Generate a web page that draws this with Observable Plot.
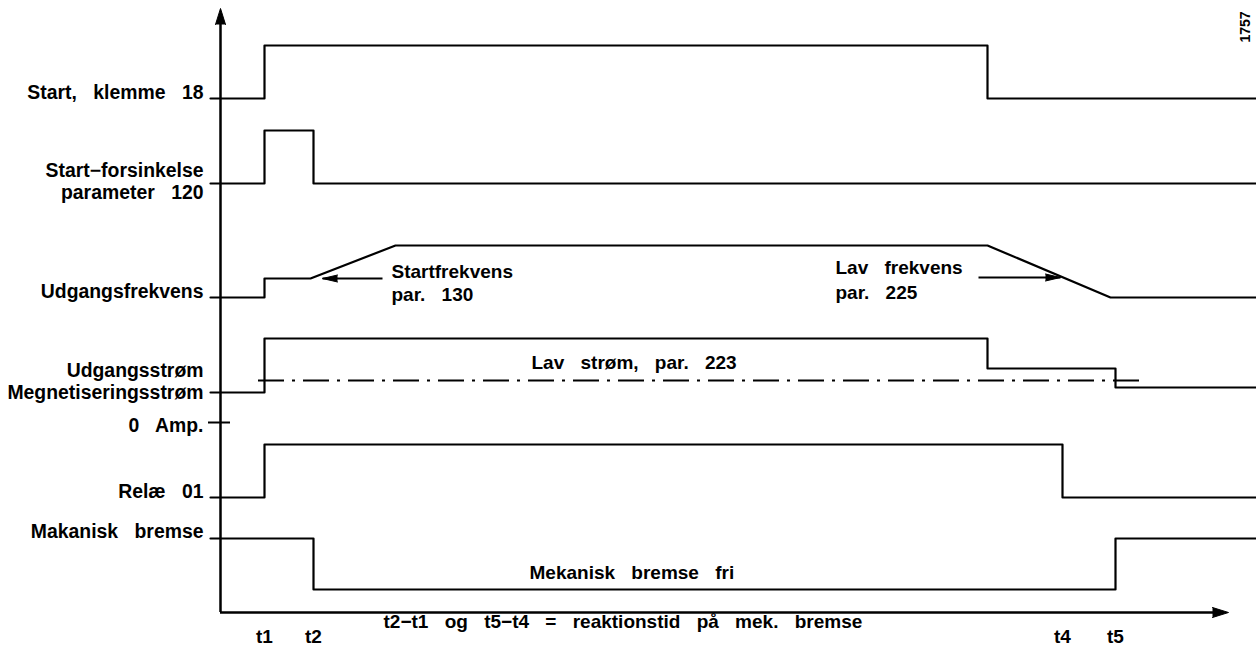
<!DOCTYPE html>
<html><head><meta charset="utf-8">
<script src="https://cdn.jsdelivr.net/npm/d3@7"></script>
<script src="https://cdn.jsdelivr.net/npm/@observablehq/plot@0.6"></script>
<style>
body{margin:0;background:#fff}
svg{display:block}
</style>
</head><body><div id="chart"></div>
<script>
// Time axis (x) in arbitrary time units from axis origin; level (y) in units above the time axis.
const eventNames = ["t1", "t2", "t4", "t5"];
const eventTimes = [44, 93, 842, 895];

const startT = [-10, 44, 44, 767, 767, 1036];
const startV = [514, 514, 567, 567, 514, 514];

const delayT = [-10, 44, 44, 93, 93, 1036];
const delayV = [429, 429, 482, 482, 429, 429];

const freqT = [-10, 44, 44, 90, 175, 767, 890, 1036];
const freqV = [315, 315, 334, 334, 367, 367, 315, 315];

const currT = [-10, 44, 44, 767, 767, 895, 895, 1036];
const currV = [220, 220, 274, 274, 244, 244, 225, 225];

const relayT = [-10, 44, 44, 842, 842, 1036];
const relayV = [115, 115, 168, 168, 115, 115];

const brakeT = [-10, 93, 93, 895, 895, 1036];
const brakeV = [74, 74, 23, 23, 74, 74];

const lowCurrentT = [38, 921];
const lowCurrentV = 232;
const zeroAmpV = 190;

const laneLabels = ["Start, klemme 18", "Start\u2212forsinkelse", "parameter 120", "Udgangsfrekvens",
  "Udgangsstrøm", "Megnetiseringsstrøm", "0 Amp.", "Relæ 01", "Makanisk bremse"];
const laneLabelV = [520, 442, 420, 321, 242, 220, 187, 121, 81];

const signals = [
  ["start", startT, startV], ["delay", delayT, delayV], ["freq", freqT, freqV],
  ["curr", currT, currV], ["relay", relayT, relayV], ["brake", brakeT, brakeV]
];
const points = signals.flatMap(([id, T, V]) => T.map((t, i) => ({id, t, v: V[i]})));

const annotations = [
  {text: "Startfrekvens", t: 171, v: 341},
  {text: "par. 130", t: 171, v: 318},
  {text: "Lav frekvens", t: 615, v: 345},
  {text: "par. 225", t: 615, v: 320},
  {text: "Lav strøm, par. 223", t: 311, v: 250},
  {text: "Mekanisk bremse fri", t: 309, v: 40},
  {text: "t2\u2212t1 og t5\u2212t4 = reaktionstid på mek. bremse", t: 163, v: -9}
];
const arrows = [
  {t1: 162, t2: 102, v: 334, rot: -90},
  {t1: 758, t2: 840, v: 335, rot: 90}
];

const font = "Liberation Sans, Arial, sans-serif";

const chart = Plot.plot({
  width: 1256, height: 648,
  margin: 0,
  style: {fontFamily: font, wordSpacing: "11px", background: "#fff", color: "#000", overflow: "visible"},
  x: {type: "linear", domain: [0, 1036], range: [220, 1256], axis: null},
  y: {type: "linear", domain: [0, 602], range: [612, 10], axis: null},
  marks: [
    // axes
    Plot.ruleX([0], {y1: 0, y2: 594, stroke: "#000", strokeWidth: 2.5}),
    Plot.ruleY([0], {x1: 0, x2: 996, stroke: "#000", strokeWidth: 2.5}),
    Plot.vector([{t: 0, v: 604, r: 0}, {t: 1008, v: 0, r: 90}], {
      x: "t", y: "v", rotate: "r", length: 16, r: 5, shape: "spike", anchor: "end",
      fill: "#000", stroke: "#000", strokeWidth: 1
    }),
    Plot.ruleY([zeroAmpV], {x1: -12, x2: 10, stroke: "#000", strokeWidth: 2}),
    // signals
    Plot.line(points, {x: "t", y: "v", z: "id", stroke: "#000", strokeWidth: 2.2, curve: "linear"}),
    // low current threshold
    Plot.ruleY([lowCurrentV], {x1: lowCurrentT[0], x2: lowCurrentT[1], stroke: "#000", strokeWidth: 2, strokeDasharray: "26,8,3,8"}),
    // annotation arrows
    Plot.link(arrows, {x1: "t1", x2: "t2", y1: "v", y2: "v", stroke: "#000", strokeWidth: 2}),
    Plot.vector(arrows, {x: "t2", y: "v", rotate: "rot", length: 15, r: 3.5, shape: "spike", anchor: "end", fill: "#000", stroke: "#000", strokeWidth: 1}),
    // lane labels
    Plot.text(laneLabels, {x: -17, y: (d, i) => laneLabelV[i], text: d => d, textAnchor: "end",
      fontSize: 19.4, fontWeight: "bold", fill: "#000"}),
    // annotations
    Plot.text(annotations, {x: "t", y: "v", text: "text", textAnchor: "start", fontSize: 19, fontWeight: "bold", fill: "#000"}),
    // event labels
    Plot.text(eventNames, {x: (d, i) => eventTimes[i], y: -24, text: d => d, fontSize: 19, fontWeight: "bold", fill: "#000"}),
    // drawing number
    Plot.text(["1757"], {x: 1025, y: 570, text: d => d, rotate: -90, textAnchor: "start", fontSize: 14, fontWeight: "bold", fill: "#000"})
  ]
});
document.getElementById("chart").append(chart);
</script>
</body></html>
